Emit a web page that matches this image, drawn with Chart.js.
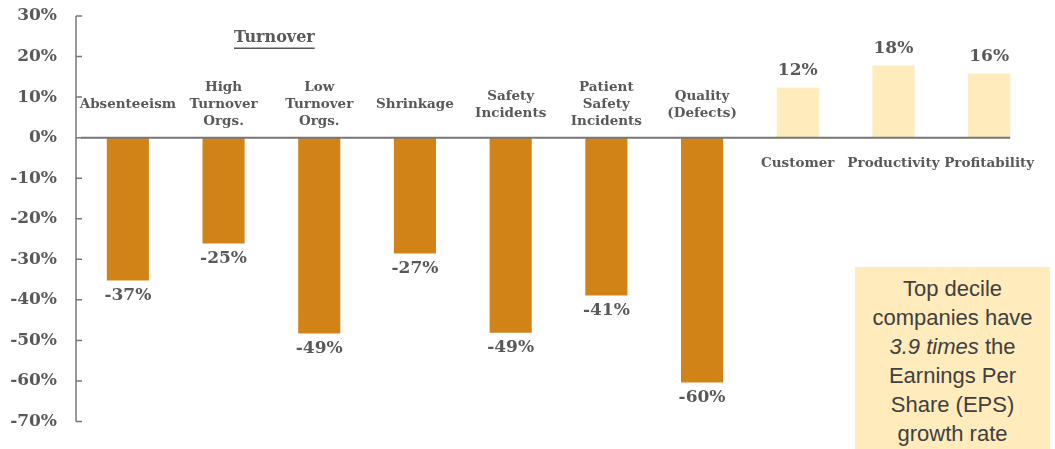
<!DOCTYPE html>
<html>
<head>
<meta charset="utf-8">
<script src="https://cdn.jsdelivr.net/npm/chart.js@4.4.0/dist/chart.umd.min.js"></script>
<style>
  html, body { margin: 0; padding: 0; background: #ffffff; }
  #wrap { position: relative; width: 1055px; height: 449px; overflow: hidden; }
  #c { position: absolute; left: 0; top: 0; }
  #note {
    position: absolute; left: 855px; top: 267px; width: 195px; height: 190px;
    background: #FFEBBB; color: #404040;
    font-family: "Liberation Sans", Arial, sans-serif; font-size: 22px; line-height: 29px;
    text-align: center; padding-top: 7px; box-sizing: border-box;
  }
</style>
</head>
<body>
<div id="wrap">
  <canvas id="c" width="1055" height="449"></canvas>
  <div id="note">Top decile<br>companies have<br><i>3.9 times</i> the<br>Earnings Per<br>Share (EPS)<br>growth rate</div>
</div>
<script>
// ---- Data ----
const categories = [
  ["Absenteeism"],
  ["High", "Turnover", "Orgs."],
  ["Low", "Turnover", "Orgs."],
  ["Shrinkage"],
  ["Safety", "Incidents"],
  ["Patient", "Safety", "Incidents"],
  ["Quality", "(Defects)"],
  ["Customer"],
  ["Productivity"],
  ["Profitability"]
];
// bar lengths as drawn in the picture (%)
const barValues = [-35.2, -26.1, -48.3, -28.6, -48.1, -38.9, -60.4, 12.3, 17.8, 15.8];
// value labels printed on the picture
const valueLabels = ["-37%", "-25%", "-49%", "-27%", "-49%", "-41%", "-60%", "12%", "18%", "16%"];
const yTicks = [30, 20, 10, 0, -10, -20, -30, -40, -50, -60, -70];
const groupTitle = "Turnover";

const DARK = "#D18318";
const LIGHT = "#FFEBBB";
const TXT = "#595959";
const AXIS = "#777777";
const SERIF = '"DejaVu Serif", Georgia, serif';

const overlay = {
  id: 'overlay',
  afterDatasetsDraw(chart) {
    const ctx = chart.ctx;
    const y = chart.scales.y;
    const meta = chart.getDatasetMeta(0);
    const zeroY = y.getPixelForValue(0);
    const axX = chart.chartArea.left - 4;
    ctx.save();
    // y axis line & ticks
    ctx.strokeStyle = AXIS; ctx.lineWidth = 1.5;
    ctx.beginPath();
    ctx.moveTo(axX, y.getPixelForValue(30));
    ctx.lineTo(axX, y.getPixelForValue(-70));
    yTicks.forEach(t => {
      const py = y.getPixelForValue(t);
      ctx.moveTo(axX, py); ctx.lineTo(axX + 6, py);
    });
    ctx.stroke();
    // zero line
    const last = meta.data[meta.data.length - 1];
    ctx.beginPath();
    ctx.lineWidth = 2;
    ctx.moveTo(chart.chartArea.left + 1, zeroY);
    ctx.lineTo(last.x + last.width / 2, zeroY);
    ctx.stroke();

    // value labels
    ctx.fillStyle = TXT;
    ctx.font = 'bold 17px ' + SERIF;
    ctx.textAlign = 'center'; ctx.textBaseline = 'middle';
    meta.data.forEach((bar, i) => {
      const v = barValues[i];
      const ty = v < 0 ? bar.y + 15 : bar.y - 17;
      ctx.fillText(valueLabels[i], bar.x, ty);
    });

    // category labels
    ctx.font = 'bold 13.5px ' + SERIF;
    const lh = 17;
    meta.data.forEach((bar, i) => {
      const lines = categories[i];
      const center = barValues[i] < 0 ? zeroY - 33 : zeroY + 26;
      const start = center - (lines.length - 1) * lh / 2;
      lines.forEach((l, k) => ctx.fillText(l, bar.x, start + k * lh));
    });

    // group title
    const gx = (meta.data[1].x + meta.data[2].x) / 2 + 3;
    const gy = y.getPixelForValue(24.5);
    ctx.font = 'bold 16px ' + SERIF;
    ctx.fillText(groupTitle, gx, gy);
    const w = ctx.measureText(groupTitle).width;
    ctx.beginPath(); ctx.lineWidth = 1.5; ctx.strokeStyle = TXT;
    ctx.moveTo(gx - w / 2, gy + 10); ctx.lineTo(gx + w / 2, gy + 10);
    ctx.stroke();
    ctx.restore();
  }
};

new Chart(document.getElementById('c'), {
  type: 'bar',
  data: {
    labels: categories.map(c => c.join(' ')),
    datasets: [{
      data: barValues,
      backgroundColor: barValues.map(v => v < 0 ? DARK : LIGHT),
      borderWidth: 0,
      barPercentage: 0.44,
      categoryPercentage: 1.0
    }]
  },
  options: {
    responsive: false,
    animation: false,
    devicePixelRatio: 1,
    layout: { padding: { left: 0, right: 18, top: 16, bottom: 27.5 } },
    plugins: { legend: { display: false }, tooltip: { enabled: false } },
    scales: {
      x: { display: false },
      y: {
        min: -70, max: 30,
        afterFit(scale) { scale.width = 80; scale.paddingTop = 0; scale.paddingBottom = 0; },
        border: { display: false },
        grid: { display: false, drawTicks: false },
        ticks: {
          stepSize: 10,
          padding: 23,
          color: TXT,
          font: { family: SERIF, size: 17, weight: 'bold' },
          callback: v => v + '%'
        }
      }
    }
  },
  plugins: [overlay]
});
</script>
</body>
</html>
